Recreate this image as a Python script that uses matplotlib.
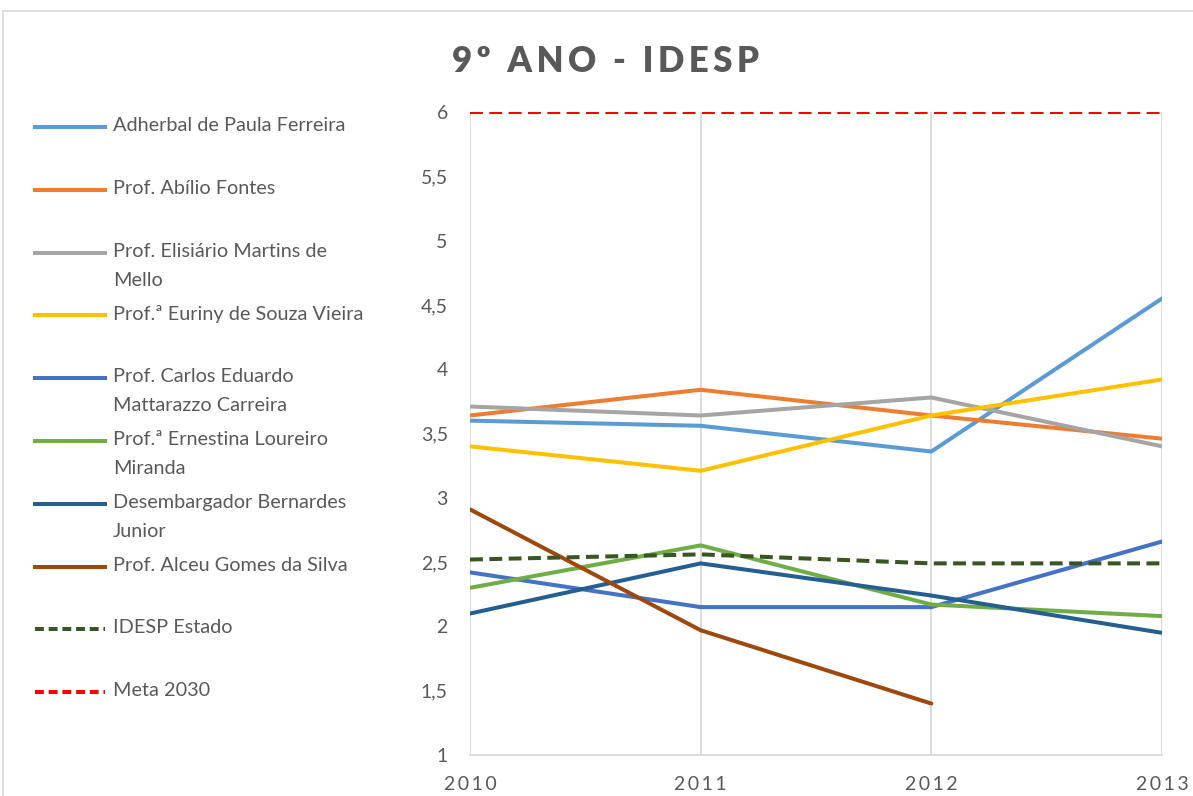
import matplotlib.pyplot as plt
from matplotlib.lines import Line2D
from matplotlib.patches import Rectangle

plt.rcParams['font.family'] = ['Lato', 'DejaVu Sans']

# data
anos = [2010, 2011, 2012, 2013]
adherbal = [3.60, 3.56, 3.36, 4.55]
abilio = [3.64, 3.84, 3.64, 3.46]
elisiario = [3.71, 3.64, 3.78, 3.40]
euriny = [3.40, 3.21, 3.64, 3.92]
carlos = [2.42, 2.15, 2.15, 2.66]
ernestina = [2.30, 2.63, 2.17, 2.08]
desembargador = [2.10, 2.49, 2.24, 1.95]
alceu = [2.91, 1.97, 1.40, None]
idesp_estado = [2.52, 2.56, 2.49, 2.49]
meta_2030 = [6, 6, 6, 6]

nomes = ['Adherbal de Paula Ferreira', 'Prof. Abílio Fontes',
         'Prof. Elisiário Martins de\nMello', 'Prof.ª Euriny de Souza Vieira',
         'Prof. Carlos Eduardo\nMattarazzo Carreira', 'Prof.ª Ernestina Loureiro\nMiranda',
         'Desembargador Bernardes\nJunior', 'Prof. Alceu Gomes da Silva',
         'IDESP Estado', 'Meta 2030']
series = [adherbal, abilio, elisiario, euriny, carlos, ernestina,
          desembargador, alceu, idesp_estado, meta_2030]
cores = ['#5B9BD5', '#ED7D31', '#A5A5A5', '#FFC000', '#4472C4', '#70AD47',
         '#255E91', '#9E480E', '#375623', '#FF0000']
tracos = ['-'] * 8 + ['--', '--']

fig = plt.figure(figsize=(11.93, 7.96), dpi=100)
ax = fig.add_axes([470 / 1193, 1 - 755 / 796, 692 / 1193, 643 / 796])

for vals, cor, ls in zip(series, cores, tracos):
    xs = [a for a, v in zip(anos, vals) if v is not None]
    ys = [v for v in vals if v is not None]
    line, = ax.plot(xs, ys, color=cor, lw=2.9, ls=ls, solid_capstyle='round')
    if ls == '--':
        line.set_dashes((3.2, 1.6))

ax.set_xlim(2010, 2013)
ax.set_ylim(1, 6)
ax.set_xticks(anos)
ax.set_xticklabels(['\u2009'.join(str(a)) for a in anos])
ax.set_yticks([1, 1.5, 2, 2.5, 3, 3.5, 4, 4.5, 5, 5.5, 6])
ax.set_yticklabels(['1', '1,5', '2', '2,5', '3', '3,5', '4', '4,5', '5', '5,5', '6'])
ax.tick_params(length=0, labelsize=14, colors='#595959')
ax.tick_params(axis='y', pad=16)
ax.tick_params(axis='x', pad=15)
ax.grid(axis='x', color='#D9D9D9', lw=1.3)
ax.set_axisbelow(True)
for s in ['top', 'right', 'left']:
    ax.spines[s].set_visible(False)
ax.spines['bottom'].set_color('#D9D9D9')
ax.spines['bottom'].set_linewidth(1.3)

fig.text(605 / 1193, 1 - 62 / 796, '\u2009'.join('9º ANO - IDESP'), ha='center', va='center',
         fontsize=25, fontweight='heavy', color='#595959')

# legend drawn by hand on the left
y0 = 127
passo = 62.8
for i, (nome, cor, ls) in enumerate(zip(nomes, cores, tracos)):
    yp = 1 - (y0 + i * passo) / 796
    ln = Line2D([35 / 1193, 105 / 1193], [yp, yp], color=cor, lw=2.9, ls=ls,
                transform=fig.transFigure)
    if ls == '--':
        ln.set_dashes((2.2, 1.2))
    fig.add_artist(ln)
    fig.text(113 / 1193, yp + 10 / 796, nome, ha='left', va='top', fontsize=14.3,
             color='#595959', linespacing=1.85)

fig.add_artist(Rectangle((3 / 1193, -0.01), 1.0, 1 - 11 / 796 + 0.01, fill=False,
                         ec='#D9D9D9', lw=1.2, transform=fig.transFigure))

fig.savefig('out.png', dpi=100)
